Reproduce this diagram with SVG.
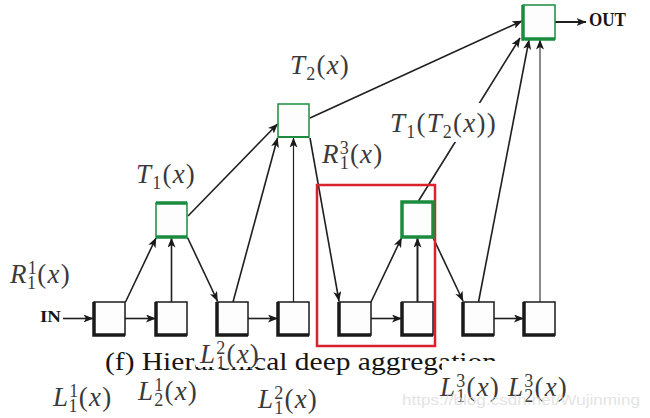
<svg xmlns="http://www.w3.org/2000/svg" width="650" height="418" viewBox="0 0 650 418">
<style>
.b{fill:#fdfdfd;stroke:#1a1a1a;stroke-width:1.5}
.bs{fill:none;stroke:#1a1a1a;stroke-width:3.5}
.g{fill:#fdfdfd;stroke:#1b8c3e;stroke-width:1.5}
.gs{fill:none;stroke:#1b8c3e;stroke-width:3.5}
.c{fill:none;stroke:#1f1f1f;stroke-width:1.6;marker-end:url(#ah)}
.m{font-family:"Liberation Serif","Times New Roman",serif;font-size:27px;fill:#3a3a3a;letter-spacing:1.2px}
.i{font-style:italic}
.s{font-size:18px}
.bg{fill:#ffffff}
.cap{font-family:"Liberation Serif","Times New Roman",serif;font-size:25px;fill:#151515}
.io{font-family:"Liberation Serif","Times New Roman",serif;font-weight:bold;fill:#151515}
</style>
<defs>
<marker id="ah" viewBox="0 0 10 8" refX="9.5" refY="4" markerWidth="10" markerHeight="8" markerUnits="userSpaceOnUse" orient="auto">
<path d="M0,0 L10,4 L0,8 L2.5,4 z" fill="#1a1a1a"/>
</marker>
</defs>
<rect width="650" height="418" fill="#ffffff"/>

<text class="cap" x="105" y="370" textLength="392" lengthAdjust="spacingAndGlyphs">(f) Hierarchical deep aggregation</text>

<g id="connectors">
<line class="c" x1="63" y1="318.5" x2="93" y2="318.5"/>
<line class="c" x1="125" y1="318.5" x2="155.5" y2="318.5"/>
<line class="c" x1="248" y1="318.5" x2="277.5" y2="318.5"/>
<line class="c" x1="371" y1="318.5" x2="401.5" y2="318.5"/>
<line class="c" x1="494" y1="318.5" x2="523.5" y2="318.5"/>
<line class="c" x1="125.5" y1="302" x2="156" y2="238"/>
<line class="c" x1="171.5" y1="302" x2="171.5" y2="238"/>
<line class="c" x1="187.5" y1="237.5" x2="217.5" y2="301"/>
<line class="c" x1="233" y1="302" x2="277.5" y2="138"/>
<line class="c" style="stroke-width:1.2" x1="293.5" y1="302" x2="293.5" y2="138"/>
<line class="c" x1="188" y1="216" x2="277.5" y2="124"/>
<line class="c" x1="310" y1="138" x2="339" y2="301"/>
<line class="c" x1="310" y1="118" x2="522" y2="21"/>
<line class="c" x1="371" y1="302" x2="401.5" y2="238"/>
<line class="c" style="stroke-width:2" x1="417.5" y1="302" x2="417.5" y2="238"/>
<line class="c" x1="418.5" y1="201" x2="520" y2="38"/>
<line class="c" x1="433" y1="237.5" x2="463" y2="301"/>
<line class="c" x1="478.5" y1="302" x2="529" y2="40"/>
<line class="c" style="stroke:#8a8a8a;stroke-width:2" x1="540" y1="302" x2="540" y2="40"/>
<line class="c" style="stroke-width:2" x1="555" y1="22" x2="586" y2="22"/>
</g>

<rect id="highlight" x="317" y="185" width="118" height="161" fill="none" stroke="#d9222c" stroke-width="2.5"/>

<g id="n1"><rect class="b" x="94" y="302" width="31" height="33"/><path class="bs" d="M94,302 V335 H125"/></g>
<g id="n2"><rect class="b" x="156" y="302" width="31" height="33"/><path class="bs" d="M156,302 V335 H187"/></g>
<g id="n3"><rect class="b" x="217" y="302" width="31" height="33"/><path class="bs" d="M217,302 V335 H248"/></g>
<g id="n4"><rect class="b" x="278" y="302" width="31" height="33"/><path class="bs" d="M278,302 V335 H309"/></g>
<g id="n5"><rect class="b" x="339" y="302" width="32" height="33"/><path class="bs" d="M339,302 V335 H371"/></g>
<g id="n6"><rect class="b" x="402" y="302" width="31" height="33"/><path class="bs" d="M402,302 V335 H433"/></g>
<g id="n7"><rect class="b" x="463" y="302" width="31" height="33"/><path class="bs" d="M463,302 V335 H494"/></g>
<g id="n8"><rect class="b" x="524" y="302" width="31" height="33"/><path class="bs" d="M524,302 V335 H555"/></g>

<g id="t1"><rect class="g" x="156" y="203" width="31" height="34"/><path class="gs" d="M156,203 H187 M156,237 H187"/></g>
<g id="t2"><rect class="g" x="278" y="104" width="31" height="33"/><path class="gs" style="stroke-width:2" d="M278,137 H309"/></g>
<g id="t1t2"><rect class="g" style="stroke-width:3.5" x="402" y="202" width="31" height="35"/></g>
<g id="out"><rect class="g" x="523" y="5" width="32" height="34"/><path class="gs" d="M523,5 V39 H555"/></g>

<g id="labels">
<text class="io" x="40" y="322" font-size="17" textLength="21" lengthAdjust="spacingAndGlyphs">IN</text>
<text class="io" x="589" y="26" font-size="18" textLength="37" lengthAdjust="spacingAndGlyphs">OUT</text>

<text class="m" x="10" y="283"><tspan class="i">R</tspan><tspan class="s" dy="-9">1</tspan><tspan class="s" dx="-10.2" dy="15">1</tspan><tspan dy="-6">(</tspan><tspan class="i">x</tspan>)</text>
<text class="m" x="136" y="183"><tspan class="i">T</tspan><tspan class="s" dy="6">1</tspan><tspan dy="-6">(</tspan><tspan class="i">x</tspan>)</text>
<text class="m" x="290" y="74"><tspan class="i">T</tspan><tspan class="s" dy="6">2</tspan><tspan dy="-6">(</tspan><tspan class="i">x</tspan>)</text>
<text class="m" x="322" y="163"><tspan class="i">R</tspan><tspan class="s" dy="-9">3</tspan><tspan class="s" dx="-10.2" dy="15">1</tspan><tspan dy="-6">(</tspan><tspan class="i">x</tspan>)</text>
<rect class="bg" x="388" y="103" width="111" height="39"/>
<text class="m" x="390" y="132"><tspan class="i">T</tspan><tspan class="s" dy="6">1</tspan><tspan dy="-6">(</tspan><tspan class="i">T</tspan><tspan class="s" dy="6">2</tspan><tspan dy="-6">(</tspan><tspan class="i">x</tspan>))</text>

<text class="m" x="53" y="406"><tspan class="i">L</tspan><tspan class="s" dy="-9">1</tspan><tspan class="s" dx="-10.2" dy="15">1</tspan><tspan dy="-6">(</tspan><tspan class="i">x</tspan>)</text>
<text class="m" x="138" y="400"><tspan class="i">L</tspan><tspan class="s" dy="-9">1</tspan><tspan class="s" dx="-10.2" dy="15">2</tspan><tspan dy="-6">(</tspan><tspan class="i">x</tspan>)</text>
<text class="m" x="258" y="408"><tspan class="i">L</tspan><tspan class="s" dy="-9">2</tspan><tspan class="s" dx="-10.2" dy="15">1</tspan><tspan dy="-6">(</tspan><tspan class="i">x</tspan>)</text>
<rect class="bg" x="196" y="337" width="61" height="30"/>
<text class="m" x="200" y="363"><tspan class="i">L</tspan><tspan class="s" dy="-9">2</tspan><tspan class="s" dx="-10.2" dy="15">1</tspan><tspan dy="-6">(</tspan><tspan class="i">x</tspan>)</text>
<rect class="bg" x="442" y="361" width="134" height="50"/>
<text class="m" x="440" y="396"><tspan class="i">L</tspan><tspan class="s" dy="-9">3</tspan><tspan class="s" dx="-10.2" dy="15">1</tspan><tspan dy="-6">(</tspan><tspan class="i">x</tspan>)</text>
<text class="m" x="508" y="396"><tspan class="i">L</tspan><tspan class="s" dy="-9">3</tspan><tspan class="s" dx="-10.2" dy="15">2</tspan><tspan dy="-6">(</tspan><tspan class="i">x</tspan>)</text>
</g>

<text x="402" y="405" font-family="Liberation Sans, Arial, sans-serif" font-size="15" fill="#d8d8d8" opacity="0.7" textLength="238" lengthAdjust="spacingAndGlyphs">https://blog.csdn.net/Wujinming</text>
</svg>
